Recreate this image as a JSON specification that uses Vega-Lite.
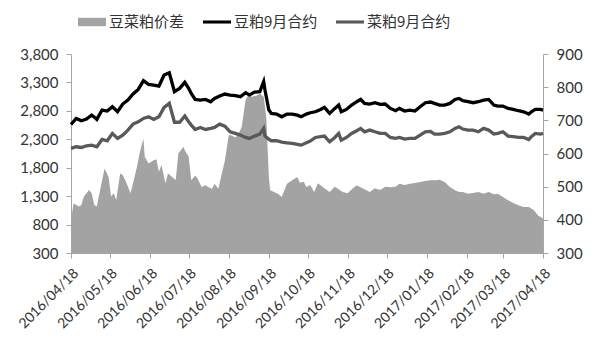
{
  "$schema": "https://vega.github.io/schema/vega-lite/v6.json",
  "width": 472,
  "height": 199,
  "autosize": {"type": "none"},
  "padding": {"left": 71, "top": 54, "right": 57, "bottom": 99},
  "background": "white",
  "config": {
    "view": {"stroke": null},
    "font": "Lato",
    "axis": {
      "grid": false,
      "title": null,
      "domainColor": "#a6a6a6",
      "tickColor": "#a6a6a6",
      "tickSize": 5,
      "labelColor": "#333333",
      "labelFont": "Lato"
    }
  },
  "datasets": {
    "lines": [
      {"d": "2016-04-18", "s": 2560, "r": 2140},
      {"d": "2016-04-22", "s": 2667, "r": 2168},
      {"d": "2016-04-26", "s": 2626, "r": 2156},
      {"d": "2016-04-30", "s": 2655, "r": 2186},
      {"d": "2016-05-04", "s": 2726, "r": 2197},
      {"d": "2016-05-08", "s": 2650, "r": 2168},
      {"d": "2016-05-12", "s": 2814, "r": 2297},
      {"d": "2016-05-16", "s": 2796, "r": 2274},
      {"d": "2016-05-20", "s": 2873, "r": 2403},
      {"d": "2016-05-24", "s": 2784, "r": 2315},
      {"d": "2016-05-28", "s": 2920, "r": 2374},
      {"d": "2016-06-01", "s": 2990, "r": 2462},
      {"d": "2016-06-05", "s": 3096, "r": 2567},
      {"d": "2016-06-09", "s": 3178, "r": 2608},
      {"d": "2016-06-13", "s": 3330, "r": 2667},
      {"d": "2016-06-17", "s": 3266, "r": 2696},
      {"d": "2016-06-21", "s": 3254, "r": 2650},
      {"d": "2016-06-25", "s": 3236, "r": 2696},
      {"d": "2016-06-29", "s": 3430, "r": 2861},
      {"d": "2016-07-03", "s": 3471, "r": 2931},
      {"d": "2016-07-07", "s": 3137, "r": 2600},
      {"d": "2016-07-11", "s": 3195, "r": 2600},
      {"d": "2016-07-15", "s": 3301, "r": 2710},
      {"d": "2016-07-18", "s": 3195, "r": 2608},
      {"d": "2016-07-20", "s": 3107, "r": 2550},
      {"d": "2016-07-23", "s": 3001, "r": 2473},
      {"d": "2016-07-27", "s": 2990, "r": 2508},
      {"d": "2016-07-31", "s": 3001, "r": 2473},
      {"d": "2016-08-04", "s": 2960, "r": 2491},
      {"d": "2016-08-07", "s": 3019, "r": 2508},
      {"d": "2016-08-11", "s": 3060, "r": 2567},
      {"d": "2016-08-15", "s": 3096, "r": 2532},
      {"d": "2016-08-19", "s": 3078, "r": 2432},
      {"d": "2016-08-23", "s": 3066, "r": 2403},
      {"d": "2016-08-27", "s": 3049, "r": 2374},
      {"d": "2016-08-31", "s": 3119, "r": 2333},
      {"d": "2016-09-03", "s": 3080, "r": 2315},
      {"d": "2016-09-07", "s": 3130, "r": 2356},
      {"d": "2016-09-11", "s": 3137, "r": 2391},
      {"d": "2016-09-14", "s": 3313, "r": 2491},
      {"d": "2016-09-15", "s": 3166, "r": 2356},
      {"d": "2016-09-18", "s": 2814, "r": 2300},
      {"d": "2016-09-20", "s": 2755, "r": 2274},
      {"d": "2016-09-24", "s": 2743, "r": 2274},
      {"d": "2016-09-28", "s": 2696, "r": 2250},
      {"d": "2016-10-02", "s": 2743, "r": 2238},
      {"d": "2016-10-06", "s": 2743, "r": 2227},
      {"d": "2016-10-10", "s": 2725, "r": 2209},
      {"d": "2016-10-13", "s": 2696, "r": 2197},
      {"d": "2016-10-17", "s": 2743, "r": 2238},
      {"d": "2016-10-20", "s": 2767, "r": 2270},
      {"d": "2016-10-24", "s": 2784, "r": 2332},
      {"d": "2016-10-28", "s": 2825, "r": 2345},
      {"d": "2016-10-31", "s": 2861, "r": 2356},
      {"d": "2016-11-04", "s": 2755, "r": 2256},
      {"d": "2016-11-08", "s": 2843, "r": 2332},
      {"d": "2016-11-11", "s": 2902, "r": 2403},
      {"d": "2016-11-13", "s": 2784, "r": 2285},
      {"d": "2016-11-17", "s": 2825, "r": 2332},
      {"d": "2016-11-21", "s": 2902, "r": 2403},
      {"d": "2016-11-25", "s": 2961, "r": 2450},
      {"d": "2016-11-28", "s": 3001, "r": 2491},
      {"d": "2016-12-01", "s": 2931, "r": 2432},
      {"d": "2016-12-05", "s": 2920, "r": 2462},
      {"d": "2016-12-09", "s": 2943, "r": 2432},
      {"d": "2016-12-13", "s": 2914, "r": 2403},
      {"d": "2016-12-17", "s": 2920, "r": 2403},
      {"d": "2016-12-21", "s": 2843, "r": 2332},
      {"d": "2016-12-25", "s": 2802, "r": 2315},
      {"d": "2016-12-28", "s": 2843, "r": 2332},
      {"d": "2017-01-01", "s": 2796, "r": 2303},
      {"d": "2017-01-05", "s": 2814, "r": 2315},
      {"d": "2017-01-09", "s": 2796, "r": 2315},
      {"d": "2017-01-13", "s": 2872, "r": 2374},
      {"d": "2017-01-17", "s": 2943, "r": 2432},
      {"d": "2017-01-21", "s": 2955, "r": 2440},
      {"d": "2017-01-24", "s": 2931, "r": 2391},
      {"d": "2017-01-28", "s": 2902, "r": 2391},
      {"d": "2017-02-01", "s": 2902, "r": 2403},
      {"d": "2017-02-05", "s": 2931, "r": 2432},
      {"d": "2017-02-09", "s": 3001, "r": 2491},
      {"d": "2017-02-12", "s": 3019, "r": 2520},
      {"d": "2017-02-15", "s": 2978, "r": 2480},
      {"d": "2017-02-19", "s": 2961, "r": 2462},
      {"d": "2017-02-23", "s": 2943, "r": 2462},
      {"d": "2017-02-27", "s": 2961, "r": 2432},
      {"d": "2017-03-03", "s": 2990, "r": 2491},
      {"d": "2017-03-07", "s": 3001, "r": 2462},
      {"d": "2017-03-11", "s": 2902, "r": 2391},
      {"d": "2017-03-14", "s": 2884, "r": 2403},
      {"d": "2017-03-18", "s": 2884, "r": 2432},
      {"d": "2017-03-22", "s": 2843, "r": 2356},
      {"d": "2017-03-26", "s": 2825, "r": 2345},
      {"d": "2017-03-30", "s": 2802, "r": 2333},
      {"d": "2017-04-03", "s": 2784, "r": 2333},
      {"d": "2017-04-07", "s": 2743, "r": 2297},
      {"d": "2017-04-09", "s": 2784, "r": 2345},
      {"d": "2017-04-12", "s": 2825, "r": 2403},
      {"d": "2017-04-16", "s": 2825, "r": 2391},
      {"d": "2017-04-18", "s": 2814, "r": 2403}
    ],
    "spread": [
      {"d": "2016-04-18", "p": 400}, {"d": "2016-04-20", "p": 450}, {"d": "2016-04-22", "p": 445},
      {"d": "2016-04-24", "p": 440}, {"d": "2016-04-26", "p": 445}, {"d": "2016-04-28", "p": 470},
      {"d": "2016-05-02", "p": 490}, {"d": "2016-05-04", "p": 480}, {"d": "2016-05-06", "p": 445},
      {"d": "2016-05-08", "p": 440}, {"d": "2016-05-10", "p": 480}, {"d": "2016-05-14", "p": 555},
      {"d": "2016-05-17", "p": 530}, {"d": "2016-05-19", "p": 470}, {"d": "2016-05-21", "p": 480},
      {"d": "2016-05-23", "p": 460}, {"d": "2016-05-26", "p": 540}, {"d": "2016-05-28", "p": 535},
      {"d": "2016-05-31", "p": 510}, {"d": "2016-06-03", "p": 480}, {"d": "2016-06-05", "p": 510},
      {"d": "2016-06-08", "p": 560}, {"d": "2016-06-10", "p": 600}, {"d": "2016-06-13", "p": 645},
      {"d": "2016-06-14", "p": 590}, {"d": "2016-06-17", "p": 570}, {"d": "2016-06-21", "p": 580},
      {"d": "2016-06-23", "p": 583}, {"d": "2016-06-25", "p": 545}, {"d": "2016-06-27", "p": 565},
      {"d": "2016-06-30", "p": 510}, {"d": "2016-07-02", "p": 540}, {"d": "2016-07-05", "p": 530},
      {"d": "2016-07-08", "p": 520}, {"d": "2016-07-10", "p": 600}, {"d": "2016-07-14", "p": 620},
      {"d": "2016-07-15", "p": 610}, {"d": "2016-07-18", "p": 590}, {"d": "2016-07-20", "p": 519},
      {"d": "2016-07-23", "p": 534}, {"d": "2016-07-25", "p": 524}, {"d": "2016-07-28", "p": 499},
      {"d": "2016-07-31", "p": 504}, {"d": "2016-08-02", "p": 499}, {"d": "2016-08-05", "p": 494},
      {"d": "2016-08-07", "p": 509}, {"d": "2016-08-10", "p": 494}, {"d": "2016-08-12", "p": 529},
      {"d": "2016-08-15", "p": 579}, {"d": "2016-08-18", "p": 655}, {"d": "2016-08-20", "p": 655},
      {"d": "2016-08-23", "p": 648}, {"d": "2016-08-25", "p": 655}, {"d": "2016-08-28", "p": 680},
      {"d": "2016-08-31", "p": 761}, {"d": "2016-09-02", "p": 776}, {"d": "2016-09-05", "p": 771},
      {"d": "2016-09-09", "p": 776}, {"d": "2016-09-11", "p": 781}, {"d": "2016-09-14", "p": 771},
      {"d": "2016-09-16", "p": 711}, {"d": "2016-09-18", "p": 529}, {"d": "2016-09-19", "p": 489},
      {"d": "2016-09-22", "p": 484}, {"d": "2016-09-25", "p": 479}, {"d": "2016-09-28", "p": 469},
      {"d": "2016-10-02", "p": 509}, {"d": "2016-10-06", "p": 519}, {"d": "2016-10-10", "p": 529},
      {"d": "2016-10-12", "p": 512}, {"d": "2016-10-15", "p": 515}, {"d": "2016-10-17", "p": 499},
      {"d": "2016-10-20", "p": 505}, {"d": "2016-10-23", "p": 484}, {"d": "2016-10-26", "p": 510},
      {"d": "2016-10-28", "p": 504}, {"d": "2016-10-31", "p": 495}, {"d": "2016-11-04", "p": 484},
      {"d": "2016-11-08", "p": 500}, {"d": "2016-11-11", "p": 492}, {"d": "2016-11-14", "p": 484},
      {"d": "2016-11-18", "p": 480}, {"d": "2016-11-22", "p": 495}, {"d": "2016-11-25", "p": 504},
      {"d": "2016-11-27", "p": 500}, {"d": "2016-12-01", "p": 492}, {"d": "2016-12-05", "p": 484},
      {"d": "2016-12-09", "p": 495}, {"d": "2016-12-13", "p": 490}, {"d": "2016-12-17", "p": 500},
      {"d": "2016-12-21", "p": 498}, {"d": "2016-12-25", "p": 500}, {"d": "2016-12-28", "p": 509},
      {"d": "2017-01-01", "p": 505}, {"d": "2017-01-05", "p": 509}, {"d": "2017-01-09", "p": 511},
      {"d": "2017-01-13", "p": 514}, {"d": "2017-01-17", "p": 517}, {"d": "2017-01-21", "p": 519},
      {"d": "2017-01-25", "p": 519}, {"d": "2017-01-28", "p": 521}, {"d": "2017-02-01", "p": 514},
      {"d": "2017-02-05", "p": 499}, {"d": "2017-02-09", "p": 489}, {"d": "2017-02-12", "p": 484},
      {"d": "2017-02-15", "p": 484}, {"d": "2017-02-19", "p": 479}, {"d": "2017-02-23", "p": 481},
      {"d": "2017-02-27", "p": 484}, {"d": "2017-03-03", "p": 479}, {"d": "2017-03-07", "p": 484},
      {"d": "2017-03-11", "p": 477}, {"d": "2017-03-14", "p": 479}, {"d": "2017-03-18", "p": 469},
      {"d": "2017-03-22", "p": 459}, {"d": "2017-03-26", "p": 451}, {"d": "2017-03-30", "p": 444},
      {"d": "2017-04-03", "p": 439}, {"d": "2017-04-07", "p": 439}, {"d": "2017-04-11", "p": 429},
      {"d": "2017-04-14", "p": 414}, {"d": "2017-04-18", "p": 404}
    ]
  },
  "encoding": {
    "x": {
      "field": "d",
      "type": "temporal",
      "scale": {
        "type": "utc",
        "nice": false,
        "domain": [
          {"year": 2016, "month": 4, "date": 18, "utc": true},
          {"year": 2017, "month": 4, "date": 18, "utc": true}
        ]
      },
      "axis": {
        "orient": "bottom",
        "labelExpr": "utcFormat(datum.value, '%Y/%m/%d')",
        "labelAngle": -45,
        "labelFontSize": 14,
        "labelPadding": 8,
        "labelOverlap": false,
        "values": [
          {"year": 2016, "month": 4, "date": 18, "utc": true},
          {"year": 2016, "month": 5, "date": 18, "utc": true},
          {"year": 2016, "month": 6, "date": 18, "utc": true},
          {"year": 2016, "month": 7, "date": 18, "utc": true},
          {"year": 2016, "month": 8, "date": 18, "utc": true},
          {"year": 2016, "month": 9, "date": 18, "utc": true},
          {"year": 2016, "month": 10, "date": 18, "utc": true},
          {"year": 2016, "month": 11, "date": 18, "utc": true},
          {"year": 2016, "month": 12, "date": 18, "utc": true},
          {"year": 2017, "month": 1, "date": 18, "utc": true},
          {"year": 2017, "month": 2, "date": 18, "utc": true},
          {"year": 2017, "month": 3, "date": 18, "utc": true},
          {"year": 2017, "month": 4, "date": 18, "utc": true}
        ]
      }
    }
  },
  "layer": [
    {
      "data": {"name": "spread"},
      "transform": [{"fold": ["p"], "as": ["k", "v"]}],
      "mark": {"type": "point", "filled": true, "opacity": 0},
      "encoding": {
        "y": {
          "field": "v",
          "type": "quantitative",
          "scale": {"domain": [300, 900], "nice": false, "zero": false},
          "axis": null
        },
        "color": {
          "field": "k",
          "type": "nominal",
          "scale": {"domain": ["p", "s", "r"], "range": ["#a3a3a3", "#000000", "#595959"]},
          "legend": {
            "orient": "none",
            "legendX": 7,
            "legendY": -46,
            "direction": "horizontal",
            "title": null,
            "labelExpr": "{'p':'豆菜粕价差','s':'豆粕9月合约','r':'菜粕9月合约'}[datum.label]",
            "labelFont": "Noto Sans CJK SC",
            "labelFontSize": 15,
            "labelColor": "#333333",
            "labelOffset": 3,
            "columnPadding": 18,
            "symbolSize": 784,
            "symbolOpacity": 1,
            "symbolStrokeWidth": 0
          }
        },
        "shape": {
          "field": "k",
          "type": "nominal",
          "scale": {
            "domain": ["p", "s", "r"],
            "range": ["M-1,-0.3H1V0.3H-1Z", "M-1,-0.11H1V0.11H-1Z", "M-1,-0.11H1V0.11H-1Z"]
          },
          "legend": {
            "orient": "none",
            "legendX": 7,
            "legendY": -46,
            "direction": "horizontal",
            "title": null,
            "labelExpr": "{'p':'豆菜粕价差','s':'豆粕9月合约','r':'菜粕9月合约'}[datum.label]",
            "labelFont": "Noto Sans CJK SC",
            "labelFontSize": 15,
            "labelColor": "#333333",
            "labelOffset": 3,
            "columnPadding": 18,
            "symbolSize": 784,
            "symbolOpacity": 1,
            "symbolStrokeWidth": 0
          }
        }
      }
    },
    {
      "data": {"name": "spread"},
      "transform": [{"fold": ["p"], "as": ["k", "v"]}],
      "mark": {"type": "area", "opacity": 1},
      "encoding": {
        "y": {
          "field": "v",
          "type": "quantitative",
          "scale": {"domain": [300, 900], "nice": false, "zero": false},
          "axis": {
            "orient": "right",
            "values": [300, 400, 500, 600, 700, 800, 900],
            "format": "d",
            "labelFontSize": 15,
            "labelPadding": 8
          }
        },
        "y2": {"datum": 300},
        "color": {"field": "k", "type": "nominal", "legend": null}
      }
    },
    {
      "data": {"name": "lines"},
      "transform": [{"fold": ["s", "r"], "as": ["k", "v"]}],
      "mark": {"type": "line", "strokeWidth": 3.3},
      "encoding": {
        "y": {
          "field": "v",
          "type": "quantitative",
          "scale": {"domain": [300, 3800], "nice": false, "zero": false},
          "axis": {
            "orient": "left",
            "values": [300, 800, 1300, 1800, 2300, 2800, 3300, 3800],
            "format": ",.0f",
            "labelFontSize": 15,
            "labelPadding": 8
          }
        },
        "color": {"field": "k", "type": "nominal", "legend": null}
      }
    }
  ],
  "resolve": {"scale": {"y": "independent"}}
}
